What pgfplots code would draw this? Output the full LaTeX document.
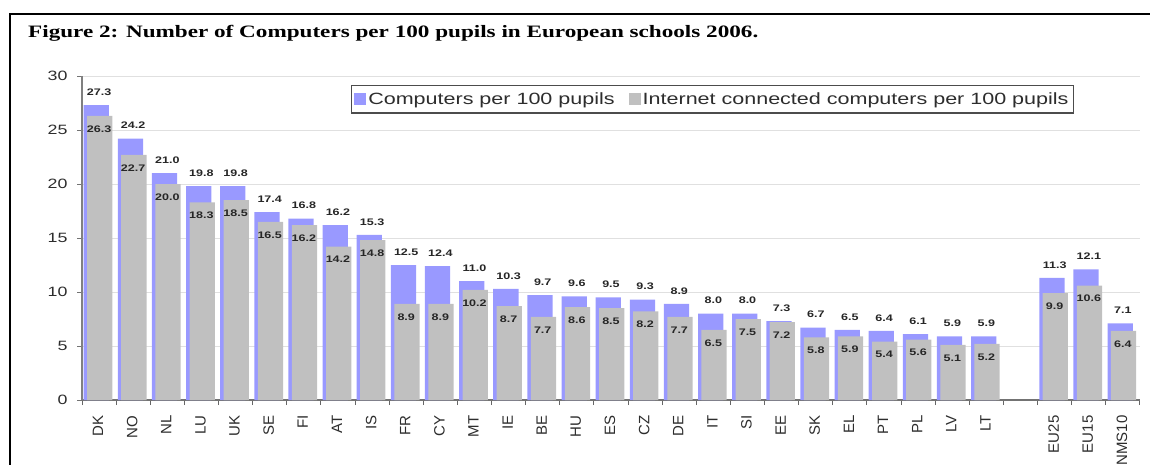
\documentclass[border=0pt]{standalone}
\usepackage{fontspec}
\setmainfont{Liberation Serif}
\newfontfamily\titlefont[FakeStretch=1.33]{Liberation Serif}
\newfontfamily\arialx[FakeStretch=1.32]{Liberation Sans}
\newfontfamily\arialn{Liberation Sans}
\usepackage{pgfplots}
\pgfplotsset{compat=1.18}
\definecolor{barblue}{RGB}{153,153,255}
\definecolor{bargray}{RGB}{192,192,192}
\definecolor{txt}{RGB}{45,45,45}
\begin{document}
\begin{tikzpicture}[x=1pt,y=1pt]
\draw[line width=2pt] (10,-480) -- (10,-14) -- (1170,-14);
\node[anchor=base west, inner sep=0pt, font=\titlefont\fontsize{17.4}{20}\selectfont\bfseries] at (28,-37) {Figure 2: Number of Computers per 100 pupils in European schools 2006.};
\begin{axis}[
  at={(82pt,-400pt)}, anchor=south west,
  scale only axis, width=1058pt, height=324pt,
  xmin=-0.5, xmax=30.5, ymin=0, ymax=30,
  /pgf/number format/assume math mode=true,
  axis x line=bottom, axis y line=left,
  x axis line style={-, draw=black!55, line width=2pt},
  y axis line style={-, draw=black!50, line width=1.2pt},
  ytick={0,5,...,30},
  ymajorgrids, grid style={draw=black!12, line width=1pt},
  tick align=outside, major tick length=5pt, minor tick length=5pt,
  y tick style={draw=black!55, line width=1pt},
  xtick={0,...,26,28,29,30},
  xticklabels={DK,NO,NL,LU,UK,SE,FI,AT,IS,FR,CY,MT,IE,BE,HU,ES,CZ,DE,IT,SI,EE,SK,EL,PT,PL,LV,LT,EU25,EU15,NMS10},
  major x tick style={draw=none},
  minor xtick={-0.5,0.5,...,30.5},
  minor x tick style={draw=black!60, line width=1pt},
  yticklabel style={font=\arialx\fontsize{13.5}{15}\selectfont, text=txt, xshift=-6pt},
  xticklabel style={yshift=-7pt, xshift=-1pt, rotate=90, anchor=east, font=\arialn\fontsize{15}{17}\selectfont, text=txt},
  legend style={at={(0.2540,0.972)}, anchor=north west, draw=black!70, line width=1.2pt,
    font=\arialx\fontsize{16.3}{18}\selectfont, text=txt, inner xsep=3pt, inner ysep=5pt,
    /tikz/every even column/.append style={column sep=12pt}},
  legend columns=2, legend cell align=left,
  legend image code/.code={\fill[#1,draw=none] (0pt,-6pt) rectangle (12pt,6pt);},
]
\addplot[ybar, bar width=0.74, bar shift=-0.08, fill=barblue, draw=none,
  nodes near coords={\pgfmathprintnumber[fixed,fixed zerofill,precision=1,assume math mode=true]{\pgfplotspointmeta}},
  every node near coord/.append style={font=\arialx\fontsize{9.5}{10}\selectfont\bfseries, text=black!85, anchor=center, inner sep=0pt, yshift=13pt}]
  coordinates {(0,27.3)(1,24.2)(2,21.0)(3,19.8)(4,19.8)(5,17.4)(6,16.8)(7,16.2)(8,15.3)(9,12.5)(10,12.4)(11,11.0)(12,10.3)(13,9.7)(14,9.6)(15,9.5)(16,9.3)(17,8.9)(18,8.0)(19,8.0)(20,7.3)(21,6.7)(22,6.5)(23,6.4)(24,6.1)(25,5.9)(26,5.9)(28,11.3)(29,12.1)(30,7.1)};
\addlegendentry{Computers per 100 pupils}
\addplot[ybar, bar width=0.74, bar shift=0.02, fill=bargray, draw=none,
  nodes near coords={\pgfmathprintnumber[fixed,fixed zerofill,precision=1,assume math mode=true]{\pgfplotspointmeta}},
  every node near coord/.append style={font=\arialx\fontsize{9.5}{10}\selectfont\bfseries, text=black!85, anchor=center, inner sep=0pt, yshift=-13pt}]
  coordinates {(0,26.3)(1,22.7)(2,20.0)(3,18.3)(4,18.5)(5,16.5)(6,16.2)(7,14.2)(8,14.8)(9,8.9)(10,8.9)(11,10.2)(12,8.7)(13,7.7)(14,8.6)(15,8.5)(16,8.2)(17,7.7)(18,6.5)(19,7.5)(20,7.2)(21,5.8)(22,5.9)(23,5.4)(24,5.6)(25,5.1)(26,5.2)(28,9.9)(29,10.6)(30,6.4)};
\addlegendentry{Internet connected computers per 100 pupils}
\end{axis}
\pgfresetboundingbox
\useasboundingbox (0,0) rectangle (1150,-464);
\end{tikzpicture}
\end{document}
